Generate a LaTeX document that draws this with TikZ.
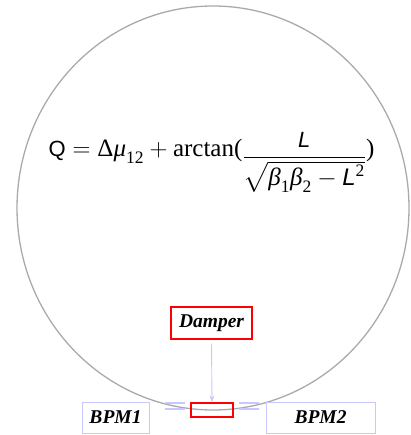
\documentclass[tikz,border=0pt]{standalone}
\usepackage{amsmath}
\usepackage{fontspec}
\setmainfont{Liberation Serif}
\setsansfont{Liberation Sans}
\usetikzlibrary{arrows.meta}
\definecolor{ringgray}{HTML}{AAAAAA}
\definecolor{lblue}{HTML}{C8C8FF}
\tikzset{
  ring/.style={draw=ringgray,line width=1.3pt},
  lbl/.style={font=\fontsize{19.5}{22}\selectfont\bfseries\itshape,inner sep=0pt,anchor=center},
  bpmbox/.style={lbl,draw=lblue,line width=0.9pt},
  dampbox/.style={lbl,draw=red,line width=1.2pt,minimum width=81pt,minimum height=32pt},
  kick/.style={draw=red,line width=1.5pt,inner sep=0pt,minimum width=42pt,minimum height=14pt},
  bline/.style={draw=lblue,line width=1.3pt},
  feed/.style={draw=lblue,line width=0.9pt,-{Stealth[length=7pt,width=5pt]}}
}
\newcommand{\sLn}{\hbox{\fontsize{22}{26}\selectfont\sffamily\itshape L}}
\newcommand{\sL}{\hbox{\fontsize{24}{28}\selectfont\sffamily\itshape L}}
\newcommand{\gb}{\text{\itshape β}}
\begin{document}
\begin{tikzpicture}[x=1pt,y=-1pt]
\useasboundingbox (0,0) rectangle (410,435);
\draw[ring] (213,208) ellipse [x radius=196,y radius=202];
\node[anchor=base,inner sep=0pt,font=\fontsize{25}{30}\selectfont] (eq) at (211.5,157)
  {$\text{\fontsize{22}{26}\selectfont\sffamily Q} = \text{Δ\itshape μ}_{\text{12}} + \text{arctan(}\lower7pt\hbox{$\displaystyle\frac{\sLn}{\sqrt{\gb_{\text{1}}\gb_{\text{2}}-\sL^{\text{2}}}}$}\text{)}$};
\node[dampbox] (damper) at (211.5,323) {Damper};
\node[kick] (kicker) at (212,410) {};
\node[bpmbox,minimum width=67pt,minimum height=31pt] (bpm1) at (115.5,417.5) {BPM1};
\node[bpmbox,minimum width=109pt,minimum height=31pt] (bpm2) at (320.5,417.5) {BPM2};
\coordinate (l1a) at (165,403); \coordinate (l1b) at (185,403);
\coordinate (l2a) at (165,409); \coordinate (l2b) at (185,409);
\coordinate (r1a) at (239,403); \coordinate (r1b) at (259,403);
\coordinate (r2a) at (239,409); \coordinate (r2b) at (259,409);
\draw[bline] (l1a) -- (l1b); \draw[bline] (l2a) -- (l2b);
\draw[bline] (r1a) -- (r1b); \draw[bline] (r2a) -- (r2b);
\draw[feed] ([yshift=-4pt]damper.south) -- (kicker.north);
\end{tikzpicture}
\end{document}
